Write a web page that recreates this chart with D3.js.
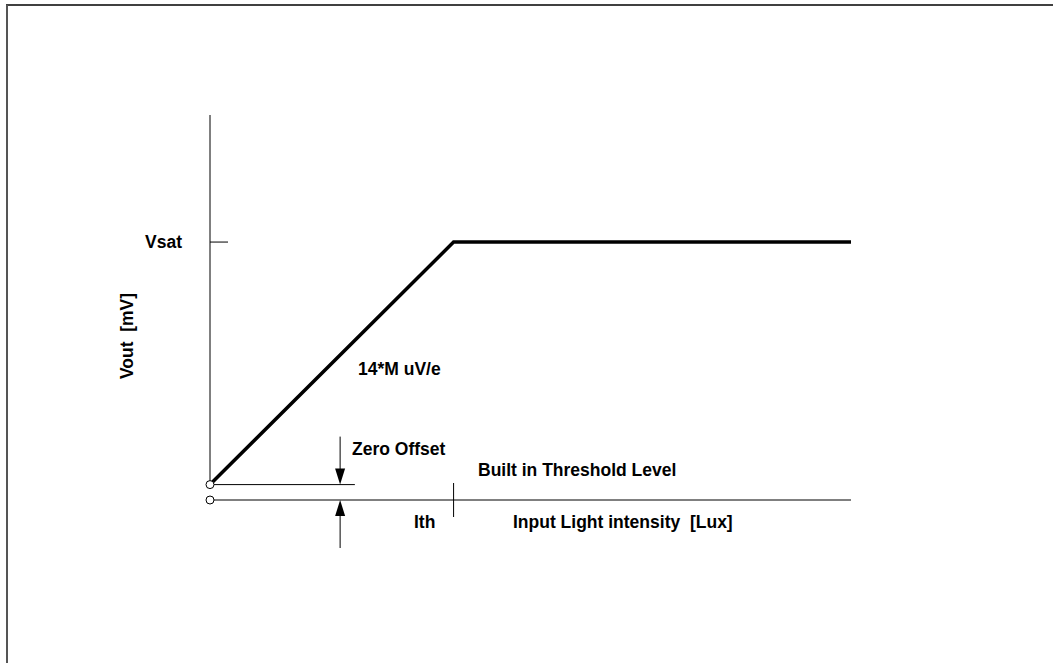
<!DOCTYPE html>
<html>
<head>
<meta charset="utf-8">
<script src="https://cdn.jsdelivr.net/npm/d3@7"></script>
<style>
  body { margin: 0; background: #fff; }
  text { font-family: "Liberation Sans", Arial, sans-serif; font-weight: bold; font-size: 17.5px; fill: #000; white-space: pre; }
</style>
</head>
<body>
<script>
// response curve (arbitrary units): input light vs output voltage
var curveX = [0, 38, 100];
var curveY = [4, 67, 67];
var vsat = 67, offset = 4, ith = 38;
var yTop = 100, xEnd = 100;

var width = 1053, height = 663;

var svg = d3.select("body")
	.append("svg")
	.attr("width", width)
	.attr("height", height);

// page frame (top and left edges only)
svg.append("line").attr("x1", 6).attr("y1", 5).attr("x2", width).attr("y2", 5)
	.attr("stroke", "#000").attr("stroke-width", 1.5);
svg.append("line").attr("x1", 7).attr("y1", 5).attr("x2", 7).attr("y2", height)
	.attr("stroke", "#555").attr("stroke-width", 2);

var x = d3.scaleLinear().domain([0, xEnd]).range([210, 851]);
var y = d3.scaleLinear().domain([0, yTop]).range([500, 115]);

var g = svg.append("g");

// y axis
g.append("line")
	.attr("x1", x(0)).attr("x2", x(0))
	.attr("y1", y(yTop)).attr("y2", y(offset))
	.attr("stroke", "#000").attr("stroke-width", 1);

// Vsat tick
g.append("line")
	.attr("x1", x(0)).attr("x2", x(0) + 18)
	.attr("y1", y(vsat)).attr("y2", y(vsat))
	.attr("stroke", "#000").attr("stroke-width", 1);

// x axis (threshold level)
g.append("line")
	.attr("x1", x(0)).attr("x2", x(xEnd))
	.attr("y1", y(0)).attr("y2", y(0))
	.attr("stroke", "#000").attr("stroke-width", 1);

// zero offset line
g.append("line")
	.attr("x1", x(0)).attr("x2", x(22.6))
	.attr("y1", y(offset)).attr("y2", y(offset))
	.attr("stroke", "#000").attr("stroke-width", 1);

// Ith tick
g.append("line")
	.attr("x1", x(ith)).attr("x2", x(ith))
	.attr("y1", y(0) - 17).attr("y2", y(0) + 17)
	.attr("stroke", "#000").attr("stroke-width", 1);

// response curve
var line = d3.line()
	.x(function(d, i){ return x(curveX[i]); })
	.y(function(d){ return y(d); });

g.append("path")
	.datum(curveY)
	.attr("d", line)
	.attr("fill", "none")
	.attr("stroke", "#000")
	.attr("stroke-width", 3.5)
	.attr("stroke-linejoin", "miter");

// little open circles at origin and threshold
g.selectAll(".dot")
	.data([offset, 0])
	.enter()
	.append("circle")
	.attr("cx", x(0))
	.attr("cy", function(d){ return y(d); })
	.attr("r", 4)
	.attr("fill", "#fff")
	.attr("stroke", "#000")
	.attr("stroke-width", 1);

// zero offset arrows
var ax = x(20.3);
function arrow(tipY, dir){
	// dir = 1 pointing down, -1 pointing up
	g.append("line")
		.attr("x1", ax).attr("x2", ax)
		.attr("y1", tipY - dir * 48).attr("y2", tipY - dir * 14)
		.attr("stroke", "#000").attr("stroke-width", 1);
	g.append("path")
		.attr("d", "M" + ax + "," + tipY +
			"L" + (ax - 5) + "," + (tipY - dir * 16) +
			"L" + (ax + 5) + "," + (tipY - dir * 16) + "Z")
		.attr("fill", "#000");
}
arrow(y(offset), 1);
arrow(y(0), -1);

// labels
svg.append("text").attr("x", 182).attr("y", y(vsat) + 6).attr("text-anchor", "end").text("Vsat");
svg.append("text")
	.attr("transform", "translate(133," + 336 + ") rotate(-90)")
	.attr("text-anchor", "middle")
	.text("Vout  [mV]");
svg.append("text").attr("x", 358).attr("y", 375).text("14*M uV/e");
svg.append("text").attr("x", 352).attr("y", 455).text("Zero Offset");
svg.append("text").attr("x", 478).attr("y", 476).text("Built in Threshold Level");
svg.append("text").attr("x", 414).attr("y", 528).text("Ith");
svg.append("text").attr("x", 513).attr("y", 528).text("Input Light intensity  [Lux]");
</script>
</body>
</html>
